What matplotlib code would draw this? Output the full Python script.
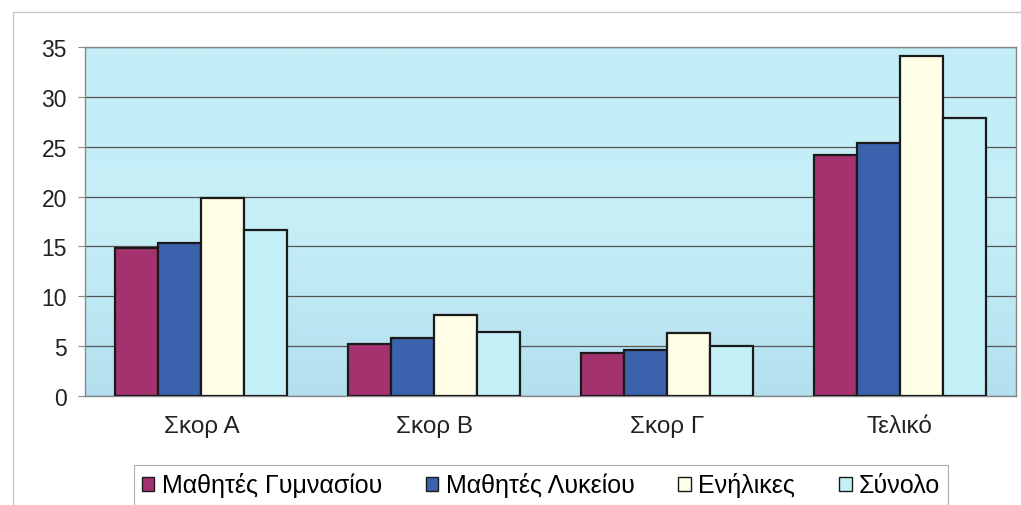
import numpy as np
import matplotlib.pyplot as plt
from matplotlib.colors import LinearSegmentedColormap
from matplotlib.patches import Rectangle

plt.rcParams['font.family'] = ['Liberation Sans', 'DejaVu Sans']

categories = ['Σκορ Α', 'Σκορ Β', 'Σκορ Γ', 'Τελικό']
series_names = ['Μαθητές Γυμνασίου', 'Μαθητές Λυκείου', 'Ενήλικες', 'Σύνολο']
gymnasio = [14.8, 5.2, 4.3, 24.2]
lykeio = [15.3, 5.8, 4.6, 25.4]
enilikes = [19.9, 8.1, 6.3, 34.1]
synolo = [16.6, 6.4, 5.0, 27.9]
y_ticks = [0, 5, 10, 15, 20, 25, 30, 35]

series = [gymnasio, lykeio, enilikes, synolo]
colors = ['#a3326e', '#3a62ad', '#fffee6', '#c4f1f8']

fig = plt.figure(figsize=(10.21, 5.06), dpi=100)
# outer chart frame
fig.patches.append(Rectangle((13 / 1021, -0.01), 1.02, 1 - 13 / 506 + 0.01,
                             transform=fig.transFigure, fill=False,
                             edgecolor='#c8c8c8', linewidth=1.0))

ax = fig.add_axes([85 / 1021, 1 - 397 / 506, (1016 - 85) / 1021, (397 - 48) / 506])

# light blue gradient background of the plot area
grad = LinearSegmentedColormap.from_list('bg', ['#b4dfee', '#c6eff7', '#c3eef7'])
ax.imshow(np.linspace(0, 1, 256).reshape(-1, 1), aspect='auto', cmap=grad,
          origin='lower', extent=(-0.5, len(categories) - 0.5, 0, 35), zorder=0)

x = np.arange(len(categories))
bar_w = 0.185
for i, (vals, name, c) in enumerate(zip(series, series_names, colors)):
    ax.bar(x + (i - 1.5) * bar_w, vals, width=bar_w, color=c, edgecolor='#1a1a1a',
           linewidth=1.6, label=name, zorder=3)

ax.set_xlim(-0.5, len(categories) - 0.5)
ax.set_ylim(0, 35)
ax.set_yticks(y_ticks)
ax.set_yticklabels([str(t) for t in y_ticks], fontsize=16.5, color='#222222')
ax.set_xticks(x)
ax.set_xticklabels(categories, fontsize=17.5, color='#222222')
ax.tick_params(axis='x', length=0, pad=14)
ax.tick_params(axis='y', length=5, color='#888888', pad=8, direction='out')
ax.yaxis.grid(True, color='#555555', linewidth=0.9, zorder=1)
ax.set_axisbelow(True)
for s in ax.spines.values():
    s.set_color('#888888')
    s.set_linewidth(1.0)

leg = fig.legend(loc='center', bbox_to_anchor=(541 / 1021, 1 - 486 / 506), ncol=4,
                 fontsize=18, frameon=True, fancybox=False, handlelength=0.5,
                 handleheight=0.5, handletextpad=0.3, columnspacing=1.75,
                 borderpad=0.3)
leg.get_frame().set_edgecolor('#999999')
leg.get_frame().set_linewidth(0.8)
for h in leg.legend_handles:
    h.set_linewidth(1.0)

fig.savefig('out.png', dpi=100)
